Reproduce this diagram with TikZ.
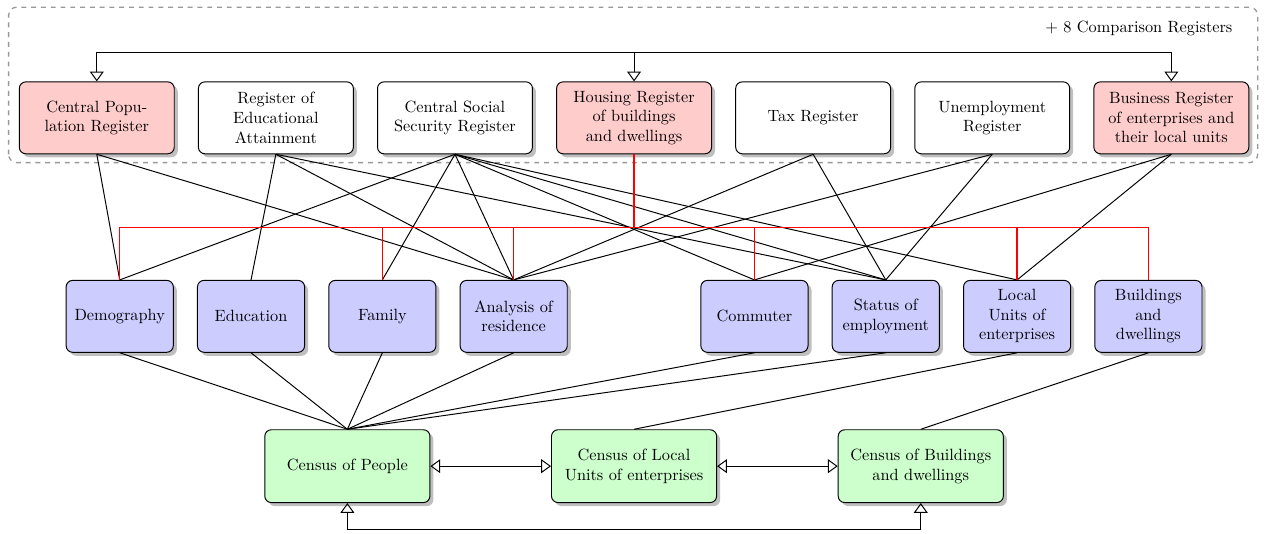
\documentclass[tikz,border=0pt]{standalone}
\usepackage{amsmath}
\usepackage{tikz}
\usetikzlibrary{positioning,shadows,calc,arrows.meta}

\begin{document}
\begin{tikzpicture}[node distance=0.5cm,
                    register/.style={draw, semithick, rounded corners=4pt, fill=white, drop shadow,
                                     align=center, minimum width=3.34cm, minimum height=1.55cm},
                    attribute/.style={register, fill=blue!20, minimum width=2.31cm},
                    census/.style={register, fill=green!20, minimum width=3.56cm, minimum height=1.57cm},
                    link/.style={draw=black, line width=0.6pt},
                    redlink/.style={draw=red, line width=0.9pt},
                    arr/.style={semithick, -{Triangle[open,length=6pt,width=8.5pt]}},
                    dblarr/.style={semithick, {Triangle[open,length=6pt,width=8.5pt]}-{Triangle[open,length=6pt,width=8.5pt]}},
                    groupbox/.style={draw=gray!80, thick, dashed, rounded corners=5pt}]
    \useasboundingbox (-13.67,-8.97) rectangle (13.71,2.54);
    \node[register, fill=red!20] (hr) at (0,0) {Housing Register\\of buildings\\and dwellings};
    \node[register, left=of hr] (cssr) {Central Social\\Security Register};
    \node[register, left=of cssr] (rea) {Register of\\Educational\\Attainment};
    \node[register, fill=red!20, left=of rea] (cpr) {Central Popu-\\lation Register};
    \node[register, right=of hr] (tax) {Tax Register};
    \node[register, right=of tax] (unemp) {Unemployment\\Register};
    \node[register, fill=red!20, right=of unemp] (br) {Business Register\\of enterprises and\\their local units};
    \draw[groupbox] ($(cpr.south west)+(-0.22,-0.18)$) rectangle ($(br.north east)+(0.18,1.6)$);
    \node[anchor=east] (cmp) at ($(br.north east)+(-0.24,1.15)$) {$+$ 8 Comparison Registers};

    \coordinate (mid) at (0,-4.28);
    \node[attribute, left=1.43cm of mid] (ana) {Analysis of\\residence};
    \node[attribute, left=of ana] (fam) {Family};
    \node[attribute, left=of fam] (edu) {Education};
    \node[attribute, left=of edu] (dem) {Demography};
    \node[attribute, right=1.43cm of mid] (com) {Commuter};
    \node[attribute, right=of com] (sta) {Status of\\employment};
    \node[attribute, right=of sta] (loc) {Local\\Units of\\enterprises};
    \node[attribute, right=of loc] (bld) {Buildings\\and\\dwellings};

    \node[census] (clu) at (0,-7.51) {Census of Local\\Units of enterprises};
    \node[census, left=2.6cm of clu] (cop) {Census of People};
    \node[census, right=2.6cm of clu] (cob) {Census of Buildings\\and dwellings};

    \coordinate (tbus) at ($(hr.north)+(0,0.625)$);
    \draw[arr] (tbus) -| (cpr.north);
    \draw[arr] (tbus) -- (hr.north);
    \draw[arr] (tbus) -| (br.north);

    \foreach \a/\b in {cpr/dem, cpr/ana, rea/edu, rea/ana, rea/sta, cssr/dem, cssr/fam, cssr/ana,
                       cssr/com, cssr/sta, cssr/loc, tax/ana, tax/sta, unemp/ana, unemp/sta, br/com, br/loc}
        \draw[link] (\a.south) -- (\b.north);

    \path[redlink] (hr.south) -- ++(0,-1.575) coordinate (rbus)
        (rbus) -| (dem.north) (rbus) -| (fam.north) (rbus) -| (ana.north)
        (rbus) -| (com.north) (rbus) -| (loc.north) (rbus) -| (bld.north);

    \foreach \a in {dem, edu, fam, ana, com, sta}
        \draw[link] (\a.south) -- (cop.north);
    \draw[link] (loc.south) -- (clu.north);
    \draw[link] (bld.south) -- (cob.north);

    \draw[dblarr] (cop.east) -- (clu.west);
    \draw[dblarr] (clu.east) -- (cob.west);
    \draw[dblarr] (cop.south) -- ++(0,-0.58) -| (cob.south);
\end{tikzpicture}
\end{document}
